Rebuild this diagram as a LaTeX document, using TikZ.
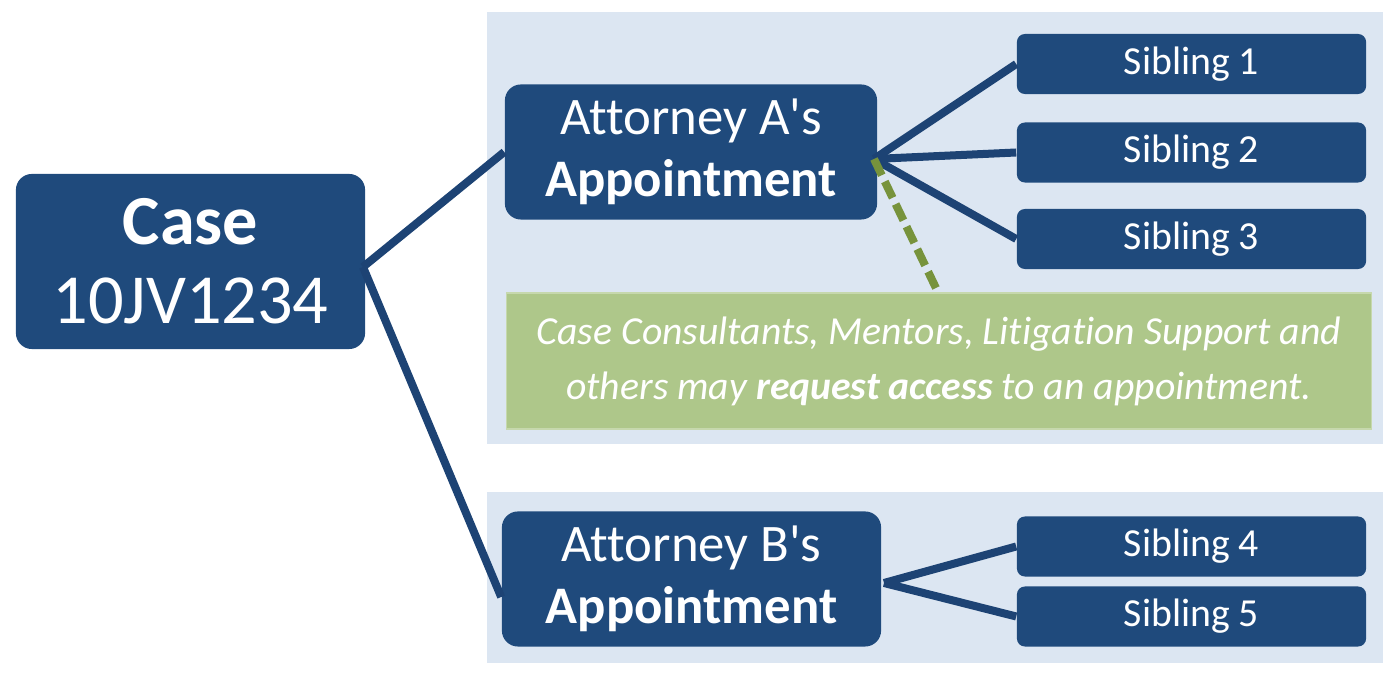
\documentclass[tikz,border=0pt]{standalone}
\usepackage{fontspec}
\setmainfont{Carlito}[Ligatures={NoCommon,TeXOff}]
\usepackage{tikz}
\usetikzlibrary{positioning,calc}
\definecolor{boxblue}{HTML}{1F4A7C}
\definecolor{lineblue}{HTML}{1D4374}
\definecolor{panelblue}{HTML}{DCE6F2}
\definecolor{notegreen}{HTML}{AEC78A}
\definecolor{dashgreen}{HTML}{77933C}
\tikzset{
  bluebox/.style={fill=boxblue, text=white, rounded corners=0.16cm, inner sep=0pt, align=center},
  sibbox/.style={bluebox, rounded corners=0.08cm, minimum width=3.49cm, minimum height=0.60cm, font=\fontsize{11.3}{13}\selectfont},
  apptbox/.style={bluebox, minimum height=1.35cm, font=\fontsize{15}{17.5}\selectfont},
  link/.style={draw=lineblue, line width=0.08cm},
}

\begin{document}
\begin{tikzpicture}[x=0.01cm, y=-0.01cm]
\useasboundingbox (0,0) rectangle (1396,677);
% background panels
\fill[panelblue] (487,12) rectangle (1383,444);
\fill[panelblue] (487,492) rectangle (1383,663);

\node[bluebox, minimum width=3.49cm, minimum height=1.75cm, font=\fontsize{20}{22.5}\selectfont] (case) at (190.5,261.5) {\textbf{Case}\\10JV1234};
\node[apptbox, minimum width=3.72cm] (attA) at (691,152) {Attorney A's\\\textbf{Appointment}};
\node[apptbox, minimum width=3.79cm] (attB) at (691.5,579) {Attorney B's\\\textbf{Appointment}};

\node[sibbox] (sib1) at (1191.5,64) {Sibling 1};
\node[sibbox] (sib2) at (1191.5,152.5) {Sibling 2};
\node[sibbox] (sib3) at (1191.5,239) {Sibling 3};
\node[sibbox] (sib4) at (1191.5,546.5) {Sibling 4};
\node[sibbox] (sib5) at (1191.5,616.5) {Sibling 5};

\node[fill=notegreen, draw=notegreen!70!white, inner sep=0pt, minimum width=8.64cm, minimum height=1.36cm, text=white, align=center, font=\fontsize{11.3}{15.6}\selectfont\itshape] (note) at (939,361)
  {Case Consultants, Mentors, Litigation Support and\\others may \textbf{request access} to an appointment.};

% connectors
\coordinate (hubC) at (363,267);
\coordinate (hubA) at (874,159);
\coordinate (hubB) at (884,583);
\draw[link] (hubC) -- (attA.west);
\draw[link] (hubC) -- ([yshift=-0.18cm]attB.west);
\foreach \s in {sib1,sib2,sib3} \draw[link] (hubA) -- (\s.west);
\foreach \s in {sib4,sib5} \draw[link] (hubB) -- (\s.west);
\draw[dashgreen, line width=0.08cm, dash pattern=on 0.18cm off 0.07cm] (hubA) -- (note.north -| 938,0);
\end{tikzpicture}
\end{document}
